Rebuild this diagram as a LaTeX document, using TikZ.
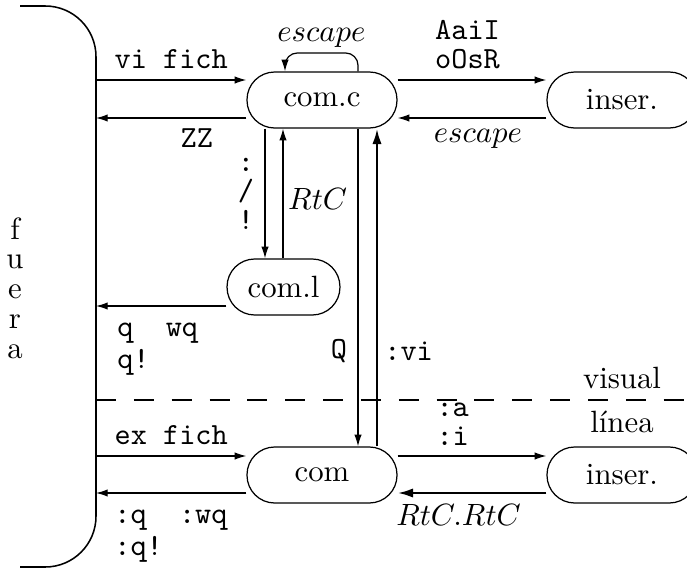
\documentclass[tikz,border=0pt]{standalone}
\usetikzlibrary{arrows.meta}
\begin{document}
\begin{tikzpicture}[x=0.325pt, y=-0.325pt,
  >={Latex[length=3.8pt,width=2.4pt]},
  modo/.style={draw, rounded corners=9pt, minimum width=48.75pt, minimum height=18.2pt, inner sep=0pt},
  orden/.style={font=\ttfamily\fontsize{10}{9.4}\selectfont, align=left},
  salida/.style={orden, font=\ttfamily\fontsize{10}{10.4}\selectfont, anchor=north west, yshift=-2pt},
  grueso/.style={thick, -{Latex[length=5pt,width=3pt]}}]
\useasboundingbox (0,0) rectangle (687,568);

% borde de fuera
\draw[line width=0.5pt, rounded corners=16.5pt] (20,6) -- (96,6) -- (96,567) -- (20,567);
\node[align=center, font=\fontsize{10}{9.66}\selectfont] (fuera) at (15,288) {f\\u\\e\\r\\a};

% modos
\node[modo] (comc) at (322,100) {com.c};
\node[modo] (insc) at (622,100) {inser.};
\node[modo, minimum width=36.7pt] (coml) at (283.5,287) {com.l};
\node[modo] (com) at (322,475) {com};
\node[modo] (insv) at (622,475) {inser.};

% puntos sobre el borde
\coordinate (a) at (96,80);
\coordinate (b) at (96,118);
\coordinate (c) at (96,306);
\coordinate (d) at (96,456);
\coordinate (e) at (96,493);
\coordinate (s) at (96,400);
\coordinate (t) at (687,400);

\draw[->] (a) -- node[above, orden] {vi fich} (a -| comc.west);
\draw[->] (b -| comc.west) -- node[below, pos=0.33, orden] {ZZ} (b);
\draw[->] (a -| comc.east) -- node[above, pos=0.47, orden] {AaiI\\oOsR} (a -| insc.west);
\draw[->] (b -| insc.west) -- node[below, pos=0.46] {$escape$} (b -| comc.east);

% bucle escape
\coordinate (l1) at (285,53);
\coordinate (l2) at (358,53);
\draw[->, rounded corners=4pt] (comc.north -| l2) -- (l2) -- node[above, inner sep=1.5pt] {$escape$} (l1) -- (comc.north -| l1);

% com.c y com.l
\coordinate (p) at (265,0);
\coordinate (r) at (283,0);
\draw[->] (comc.south -| p) -- node[left, orden, align=center] {:\\/\\!} (coml.north -| p);
\draw[->] (coml.north -| r) -- node[right, pos=0.46, inner sep=1.5pt] {$RtC$} (comc.south -| r);
\draw[->] (c -| coml.west) -- node[pos=0.92, salida] {q~~wq\\q!} (c);

% com.c y com
\coordinate (q) at (358,0);
\coordinate (v) at (377,0);
\draw[->] (comc.south -| q) -- node[left, pos=0.7, orden] {Q} (com.north -| q);
\draw[grueso] (com.north -| v) -- node[right, pos=0.3, orden, inner sep=2pt] {:vi} (comc.south -| v);

\draw[dash pattern=on 6.5pt off 5.8pt] (s) -- (t);
\path (insv |- s) node[above] (visual) {visual} node[below] (linea) {línea};

\draw[->] (d) -- node[above, orden] {ex fich} (d -| com.west);
\draw[->] (e -| com.west) -- node[pos=0.95, salida] {:q~~:wq\\:q!} (e);
\draw[->] (d -| com.east) -- node[above, pos=0.37, orden] {:a\\:i} (d -| insv.west);
\draw[grueso] (e -| insv.west) -- node[below, pos=0.59] {$RtC.RtC$} (e -| com.east);
\end{tikzpicture}
\end{document}
